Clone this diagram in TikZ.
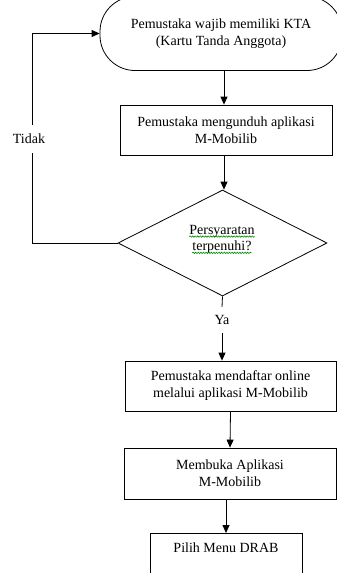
\documentclass[tikz,border=0pt]{standalone}
\usepackage{fontspec}
\setmainfont{Liberation Serif}
\usetikzlibrary{shapes.geometric,arrows.meta,decorations.pathmorphing}
\begin{document}
\begin{tikzpicture}[x=1pt,y=-1pt,
  every node/.style={font=\fontsize{14}{17}\selectfont, align=center},
  box/.style={draw, line width=0.8pt, inner sep=0pt},
  link/.style={line width=0.8pt},
  arr/.style={line width=0.8pt, -{Triangle[length=8pt,width=7pt]}},
  spell/.style={green!55!black, line width=0.6pt, decorate,
    decoration={snake, amplitude=0.7pt, segment length=2.6pt}}]
\useasboundingbox (0,0) rectangle (337,573);
\clip (0,0) rectangle (337,573);
% terminal
\node[box, rounded corners=35pt, minimum width=242pt, minimum height=74pt] (term) at (221,33.5)
  {Pemustaka wajib memiliki KTA\\(Kartu Tanda Anggota)};
% boxes
\node[box, minimum width=212pt, minimum height=50pt] (box2) at (226,130)
  {Pemustaka mengunduh aplikasi\\M-Mobilib};
\node[box, shape=diamond, minimum width=209pt, minimum height=106pt] (dia) at (222.5,243) {};
\node[inner sep=0pt] (l1) at (222,231) {Persyaratan};
\node[inner sep=0pt] (l2) at (222,247) {terpenuhi?};
\draw[spell] ([yshift=-2.5pt]l1.base west) -- ([yshift=-2.5pt]l1.base east);
\draw[spell] ([yshift=-2.5pt]l2.base west) -- ([yshift=-2.5pt]l2.base east);
\node[minimum height=26pt, inner sep=0pt] (ya) at (222,320) {Ya};
\node[box, minimum width=211pt, minimum height=50pt] (box3) at (230.5,386)
  {Pemustaka mendaftar online\\melalui aplikasi M-Mobilib};
\node[box, minimum width=212pt, minimum height=51pt] (box4) at (230,473.5)
  {Membuka Aplikasi\\M-Mobilib};
\node[box, anchor=north, minimum width=152pt, inner ysep=4pt, text height=15pt, text depth=30pt] (box5) at (226,533)
  {Pilih Menu DRAB};
\node[minimum height=27pt, inner sep=0pt] (tidak) at (29,139) {Tidak};
% connectors
\coordinate (a1) at (224,0);
\coordinate (tx) at (32,0);
\draw[arr] (term.south -| a1) -- (box2.north -| a1);
\draw[arr] (box2.south -| a1) -- (dia.north -| a1);
\draw[link] (dia.south) -- (ya.north);
\draw[arr] (ya.south) -- (ya.south |- box3.north);
\draw[arr] (box3.south) -- (box4.north);
\draw[arr] (box4.south -| box5.north) -- (box5.north);
\draw[link] (dia.west) -| (tidak.south -| tx);
\draw[arr] (tidak.north -| tx) |- (term.west);
\end{tikzpicture}
\end{document}
